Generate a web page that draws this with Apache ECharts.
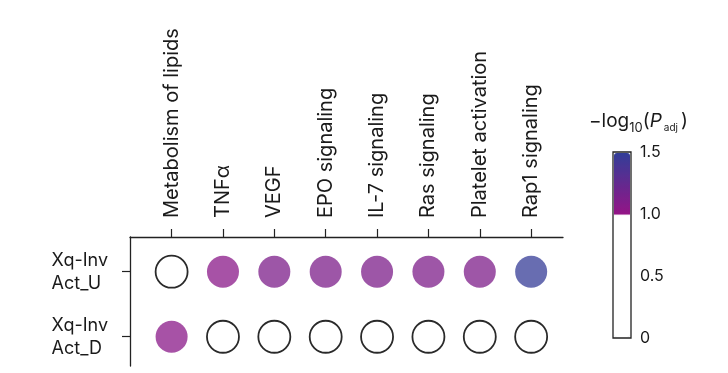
<!DOCTYPE html>
<html><head><meta charset="utf-8">
<script src="https://cdn.jsdelivr.net/npm/echarts@6/dist/echarts.min.js"></script>
<style>html,body{margin:0;padding:0;background:#fff}#c{width:728px;height:373px}</style>
</head><body><div id="c"></div>
<script>
// ---- data ----
const pathways = ['Metabolism of lipids', 'TNFα', 'VEGF', 'EPO signaling', 'IL-7 signaling', 'Ras signaling', 'Platelet activation', 'Rap1 signaling'];
const groups = ['Xq-Inv\nAct_U', 'Xq-Inv\nAct_D'];
const actU = [0.4, 1.05, 1.12, 1.12, 1.12, 1.11, 1.11, 1.48];
const actD = [1.05, 0.4, 0.4, 0.4, 0.4, 0.4, 0.4, 0.4];
const cbTicks = [0, 0.5, 1.0, 1.5];
const cbMin = 0, cbMax = 1.5, threshold = 1.0;

// ---- colour scale stops (white below threshold, magenta->blue above) ----
const lo = [148, 20, 134], hi = [50, 62, 152];
const stops = [];
for (let i = 0; i <= 150; i++) {
  const v = i / 100;
  if (v < threshold) { stops.push('#ffffff'); continue; }
  const t = (v - threshold) / (cbMax - threshold);
  const c = lo.map((a, k) => Math.round(a + (hi[k] - a) * t));
  stops.push('rgb(' + c.join(',') + ')');
}

const rows = [actU, actD];
const points = [];
rows.forEach((vals, r) => {
  vals.forEach((v, i) => {
    const empty = v < threshold;
    points.push({
      value: [i, r, v],
      itemStyle: empty
        ? { borderColor: '#2a2a2a', borderWidth: 1.8, opacity: 1 }
        : { borderWidth: 0, opacity: 0.75 }
    });
  });
});

const FONT = 'Inter';
const TXT = '#1a1a1a';
const chart = echarts.init(document.getElementById('c'), null, { renderer: 'canvas' });
chart.setOption({
  animation: false,
  backgroundColor: '#fff',
  textStyle: { fontFamily: FONT },
  grid: [
    { left: 130, top: 237, width: 433, height: 129 },
    { left: 613, top: 152, width: 18, height: 186, show: true, backgroundColor: 'transparent',
      borderColor: '#222', borderWidth: 1.3 }
  ],
  xAxis: [{
    gridIndex: 0, type: 'value', position: 'top', min: -0.81, max: 7.62,
    splitLine: { show: false },
    axisLine: { show: true, onZero: false, lineStyle: { color: '#222', width: 1.3 } },
    axisTick: { show: true, length: 8, customValues: pathways.map((_, i) => i), lineStyle: { color: '#222', width: 1.2 } },
    axisLabel: { rotate: -90, margin: 19, fontSize: 20, color: TXT, fontFamily: FONT,
      customValues: pathways.map((_, i) => i), formatter: v => pathways[Math.round(v)] }
  }, {
    gridIndex: 1, type: 'value', show: false
  }],
  yAxis: [{
    gridIndex: 0, type: 'value', inverse: true, min: -0.534, max: 1.45,
    splitLine: { show: false },
    axisLine: { show: true, onZero: false, lineStyle: { color: '#222', width: 1.3 } },
    axisTick: { show: true, length: 8, customValues: groups.map((_, i) => i), lineStyle: { color: '#222', width: 1.2 } },
    axisLabel: { margin: 22, color: TXT, fontFamily: FONT,
      customValues: groups.map((_, i) => i),
      formatter: v => groups[Math.round(v)].split('\n').map(s => '{a|' + s + '}').join('\n'),
      rich: { a: { fontSize: 18, lineHeight: 23, align: 'left', fontFamily: FONT, color: TXT } } }
  }, {
    gridIndex: 1, type: 'value', position: 'right', min: cbMin, max: cbMax, interval: 0.5,
    splitLine: { show: false }, axisLine: { show: false }, axisTick: { show: false },
    axisLabel: { margin: 9, fontSize: 16, color: TXT, fontFamily: FONT,
      formatter: v => cbTicks.includes(v) ? (v === 0 ? '0' : v.toFixed(1)) : '' }
  }],
  visualMap: {
    type: 'continuous', min: cbMin, max: cbMax, dimension: 2, seriesIndex: 0,
    calculable: false, orient: 'vertical', left: 614, top: 153,
    itemWidth: 16, itemHeight: 184, text: null, padding: 0,
    inRange: { color: stops }
  },
  title: {
    text: '{n|−log}{s|10}{n|(}{i|P}{a|adj}{n|)}',
    left: 584, top: 107,
    textStyle: { rich: {
      n: { fontSize: 19, fontWeight: 'normal', fontFamily: FONT, color: TXT, lineHeight: 24, verticalAlign: 'top' },
      s: { fontSize: 13, fontWeight: 'normal', fontFamily: FONT, color: TXT, lineHeight: 24, padding: [10, 0, 0, 0], verticalAlign: 'top' },
      i: { fontSize: 19, fontWeight: 'normal', fontFamily: FONT, fontStyle: 'italic', color: TXT, lineHeight: 24, verticalAlign: 'top' },
      a: { fontSize: 10, fontWeight: 'normal', fontFamily: FONT, color: TXT, lineHeight: 24, padding: [11, 3, 0, 2], verticalAlign: 'top' }
    } }
  },
  series: [{
    type: 'scatter', xAxisIndex: 0, yAxisIndex: 0,
    symbolSize: 32, data: points
  }]
});
</script></body></html>
